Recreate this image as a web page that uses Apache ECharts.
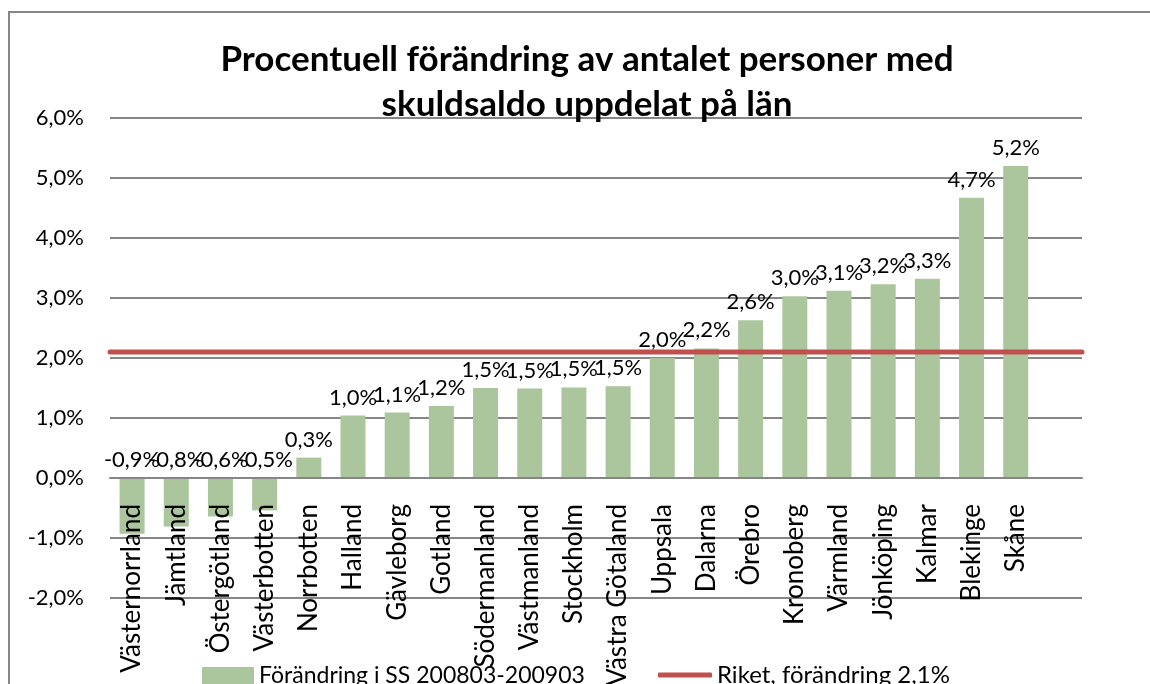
<!DOCTYPE html>
<html>
<head>
<meta charset="utf-8">
<script src="https://cdn.jsdelivr.net/npm/echarts@6/dist/echarts.min.js"></script>
<style>
  html, body { margin: 0; padding: 0; background: #fff; }
  #myChart { width: 1150px; height: 684px; }
</style>
</head>
<body>
<div id="myChart"></div>
<script>
    // län, sorterade efter förändring
    var lanNamn = ['Västernorrland', 'Jämtland', 'Östergötland', 'Västerbotten', 'Norrbotten',
        'Halland', 'Gävleborg', 'Gotland', 'Södermanland', 'Västmanland', 'Stockholm',
        'Västra Götaland', 'Uppsala', 'Dalarna', 'Örebro', 'Kronoberg', 'Värmland',
        'Jönköping', 'Kalmar', 'Blekinge', 'Skåne', '']
    // förändring i procent
    var forandring = [-0.93, -0.81, -0.64, -0.54, 0.34, 1.04, 1.09, 1.2, 1.5, 1.49, 1.51,
        1.53, 2.0, 2.16, 2.63, 3.03, 3.12, 3.23, 3.32, 4.67, 5.2]
    var riket = [2.1, 2.1]
    var yTicks = [-2, -1, 0, 1, 2, 3, 4, 5, 6]

    var fontName = 'Lato'
    function pct(v) {
        return v.toFixed(1).replace('.', ',') + '%'
    }

    var myChart = echarts.init(document.getElementById('myChart'))
    myChart.setOption({
        animation: false,
        textStyle: {fontFamily: fontName},
        graphic: [{
            type: 'rect',
            shape: {x: 9, y: 12, width: 1300, height: 900},
            style: {fill: 'none', stroke: '#868686', lineWidth: 2},
            silent: true
        }],
        title: {
            text: 'Procentuell förändring av antalet personer med\nskuldsaldo uppdelat på län',
            left: 582,
            textAlign: 'center',
            top: 32,
            textStyle: {fontFamily: fontName, fontSize: 35, fontWeight: 'bold', color: '#000', lineHeight: 45}
        },
        legend: [
            {
                bottom: -8,
                left: 197,
                itemWidth: 52,
                itemHeight: 17,
                icon: 'rect',
                textStyle: {fontFamily: fontName, fontSize: 23, color: '#000'},
                data: ['Förändring i SS 200803-200903']
            },
            {
                bottom: -8,
                left: 653,
                itemWidth: 54,
                itemHeight: 5,
                itemGap: 2,
                icon: 'roundRect',
                textStyle: {fontFamily: fontName, fontSize: 24, color: '#000'},
                data: ['Riket, förändring 2,1%']
            }
        ],
        grid: {left: 110, right: 68, top: 118, bottom: 86, outerBoundsMode: 'none'},
        xAxis: [
            {
                type: 'category',
                position: 'bottom',
                offset: -120, // kategoriaxeln ligger vid 0,0%
                z: 5,
                data: lanNamn,
                axisLine: {onZero: false, lineStyle: {color: '#868686', width: 2}},
                axisTick: {show: false},
                axisLabel: {rotate: 90, margin: 26, interval: 0, fontSize: 26, color: '#000', fontFamily: fontName}
            },
            {
                type: 'category',
                position: 'top',
                data: ['', ''],
                boundaryGap: false,
                show: false
            }
        ],
        yAxis: {
            type: 'value',
            min: yTicks[0],
            max: yTicks[yTicks.length - 1],
            interval: 1,
            axisLine: {show: false},
            axisTick: {show: false},
            splitLine: {lineStyle: {color: '#868686', width: 2}},
            axisLabel: {
                margin: 26, fontSize: 22, color: '#000', fontFamily: fontName,
                formatter: function (v) { return pct(v) }
            }
        },
        series: [
            {
                name: 'Förändring i SS 200803-200903',
                type: 'bar',
                data: forandring,
                barWidth: 25,
                itemStyle: {color: '#abc69d'},
                label: {
                    show: true,
                    position: 'top',
                    distance: 7,
                    fontSize: 22,
                    color: '#000',
                    fontFamily: fontName,
                    formatter: function (p) { return pct(p.value) }
                },
                z: 2
            },
            {
                name: 'Riket, förändring 2,1%',
                type: 'line',
                xAxisIndex: 1,
                data: riket,
                symbol: 'none',
                lineStyle: {color: '#c0504d', width: 5, cap: 'round'},
                itemStyle: {color: '#c0504d'},
                z: 3
            }
        ]
    });
</script>
</body>
</html>
